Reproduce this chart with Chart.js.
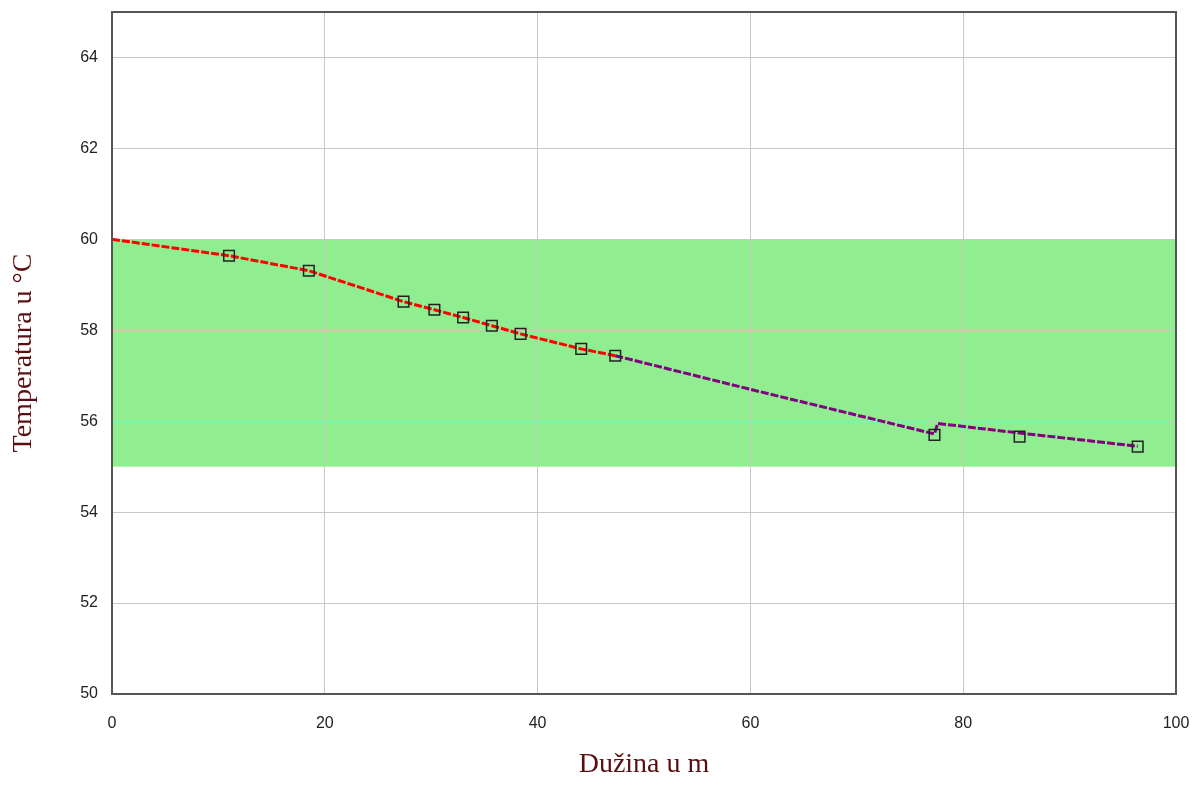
<!DOCTYPE html>
<html>
<head>
<meta charset="utf-8">
<script src="https://cdn.jsdelivr.net/npm/chart.js@4/dist/chart.umd.min.js"></script>
<style>
  html, body { margin: 0; padding: 0; background: #fff; }
  #wrap { width: 1198px; height: 785px; }
</style>
</head>
<body>
<div id="wrap"><canvas id="chart" width="1198" height="785"></canvas></div>
<script>
// data
const redLine = [
  { x: 0, y: 60 }, { x: 11, y: 59.64 }, { x: 18.5, y: 59.31 }, { x: 27.4, y: 58.63 },
  { x: 30.3, y: 58.45 }, { x: 33.0, y: 58.28 }, { x: 35.7, y: 58.10 }, { x: 38.4, y: 57.92 },
  { x: 44.1, y: 57.59 }, { x: 47.3, y: 57.44 },
];
const purpleLine = [
  { x: 47.3, y: 57.44 }, { x: 60, y: 56.70 }, { x: 77.3, y: 55.72 },
  { x: 77.6, y: 55.95 }, { x: 85.3, y: 55.74 }, { x: 96.4, y: 55.45 },
];
const markers = [
  { x: 11, y: 59.64 }, { x: 18.5, y: 59.31 }, { x: 27.4, y: 58.63 }, { x: 30.3, y: 58.45 },
  { x: 33.0, y: 58.28 }, { x: 35.7, y: 58.10 }, { x: 38.4, y: 57.92 }, { x: 44.1, y: 57.59 },
  { x: 47.3, y: 57.44 }, { x: 77.3, y: 55.70 }, { x: 85.3, y: 55.66 }, { x: 96.4, y: 55.44 },
];
const bandLow = 55;
const bandHigh = 60;
const xTitle = "Dužina u m";
const yTitle = "Temperatura u °C";

const bandPlugin = {
  id: "band",
  beforeDraw(chart) {
    const { ctx, chartArea: a, scales: { y } } = chart;
    ctx.save();
    ctx.fillStyle = "#fff";
    ctx.fillRect(0, 0, chart.width, chart.height);
    const top = y.getPixelForValue(bandHigh);
    const bot = y.getPixelForValue(bandLow);
    ctx.fillStyle = "#90ee90";
    ctx.fillRect(a.left, top, a.right - a.left, bot - top);
    ctx.restore();
  },
  afterDatasetsDraw(chart) {
    const { ctx, chartArea: a } = chart;
    ctx.save();
    ctx.strokeStyle = "#555";
    ctx.lineWidth = 2;
    ctx.strokeRect(a.left, a.top, a.right - a.left, a.bottom - a.top);
    ctx.restore();
  },
};

const tickFont = { family: "Liberation Sans", size: 16 };
const titleFont = { family: "Liberation Serif", size: 28 };

new Chart(document.getElementById("chart"), {
  type: "scatter",
  data: {
    datasets: [
      { data: markers, showLine: false, pointStyle: "rect", pointRadius: 7.5, pointBorderWidth: 1.5,
        pointBorderColor: "#222", pointBackgroundColor: "rgba(0,0,0,0)", order: 0 },
      { data: redLine, showLine: true, borderColor: "#ff0000", borderWidth: 3, borderDash: [8, 2],
        pointRadius: 0, tension: 0, order: 1 },
      { data: purpleLine, showLine: true, borderColor: "#800080", borderWidth: 3, borderDash: [8, 2],
        pointRadius: 0, tension: 0, order: 2 },
    ],
  },
  options: {
    responsive: false,
    animation: false,
    layout: { padding: { top: 12, right: 22, left: 0, bottom: 0 } },
    plugins: { legend: { display: false }, tooltip: { enabled: false } },
    scales: {
      x: {
        type: "linear", min: 0, max: 100,
        ticks: { stepSize: 20, color: "#222", font: tickFont, padding: 20 },
        grid: { color: "#c8c8c8", lineWidth: 1, drawTicks: false },
        border: { display: false },
        title: { display: true, text: xTitle, color: "#5a1010", font: titleFont, padding: { top: 4 } },
        afterFit: (s) => { s.height = 91; s.paddingLeft = 0; s.paddingRight = 0; },
      },
      y: {
        type: "linear", min: 50, max: 65,
        ticks: { stepSize: 2, includeBounds: false, color: "#222", font: tickFont, padding: 14 },
        grid: { color: "#c8c8c8", lineWidth: 1, drawTicks: false },
        border: { display: false },
        title: { display: true, text: yTitle, color: "#5a1010", font: titleFont, padding: { top: 7, bottom: 4 } },
        afterFit: (s) => { s.width = 112; s.paddingTop = 0; s.paddingBottom = 0; },
      },
    },
  },
  plugins: [bandPlugin],
});
</script>
</body>
</html>
